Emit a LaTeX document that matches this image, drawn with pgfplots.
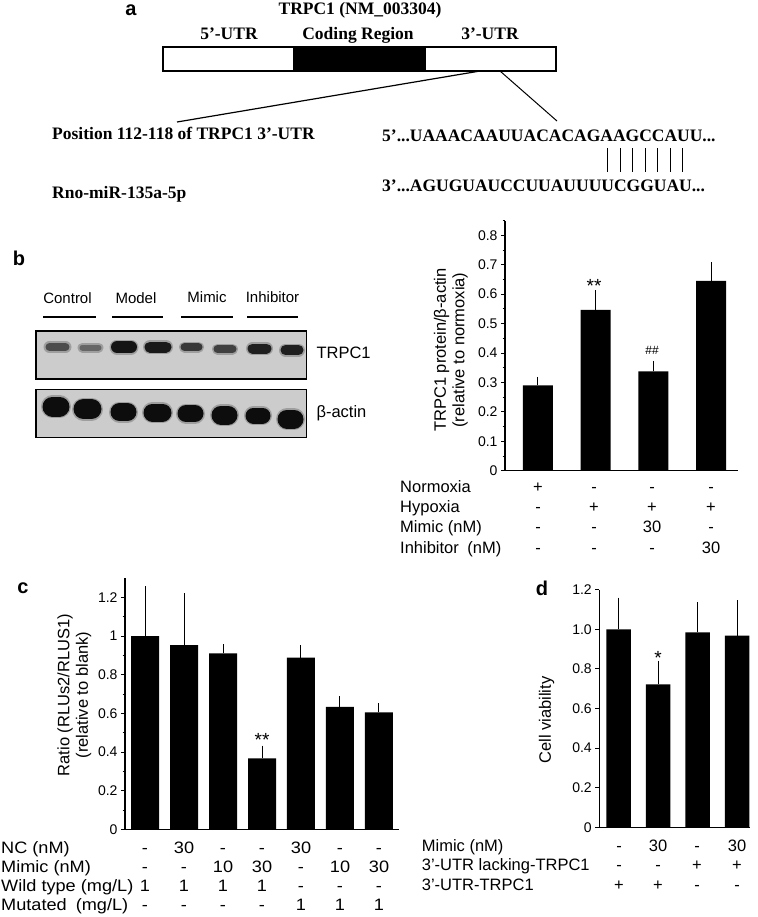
\documentclass[border=0pt]{standalone}
\usepackage{fontspec}
\setmainfont{Liberation Sans}
\newfontfamily\tnr{Liberation Serif}
\newfontfamily\cfont[FakeStretch=1.1]{Liberation Sans}
\usepackage{pgfplots}
\pgfplotsset{compat=1.18}

\newcommand{\fs}[1]{\fontsize{#1}{#1}\selectfont}

\pgfplotsset{
  barpanel/.style={
    scale only axis, anchor=south west, clip=false,
    axis lines=left, axis line style={-, line width=1.1pt},
    xtick=\empty, ytick pos=left,
    tick align=outside, major tick length=4pt, minor tick length=2.5pt,
    every tick/.style={black, line width=0.9pt},
    yticklabel style={font=\fs{14}},
    /pgf/number format/assume math mode=true,
    ymin=0,
  },
  blackbar/.style={ybar, fill=black, draw=none,
    error bars/.cd, y dir=plus, y explicit,
    error bar style={draw=black, line width=1pt},
    error mark options={draw=black, line width=1pt, mark size=2.5pt}},
  halo/.style={no marks, line cap=round, line width=#1, black!38, forget plot},
  band/.style={no marks, line cap=round, line width=#1, forget plot},
}

\begin{document}
\begin{tikzpicture}
\path[use as bounding box] (0pt,0pt) rectangle (757pt,-917pt);

% ---------- canvas in pixel units: text, schematic, blot, tables ----------
\begin{axis}[at={(0pt,-917pt)}, anchor=south west, scale only axis,
  width=757pt, height=917pt, xmin=0, xmax=757, ymin=0, ymax=917,
  y dir=reverse, hide axis, clip=false]

% panel letters
\node[anchor=base, font=\bfseries\fs{20}] at (131,15) {a};
\node[anchor=base, font=\bfseries\fs{20}] at (19,265) {b};
\node[anchor=base, font=\bfseries\fs{20}] at (23,593.3) {c};
\node[anchor=base, font=\bfseries\fs{20}] at (542,595) {d};

% panel a
\node[anchor=base, font=\tnr\bfseries\fs{17.5}] at (360,14.5) {TRPC1 (NM\_003304)};
\node[anchor=base, font=\tnr\bfseries\fs{17.5}] at (229,39.3) {5’-UTR};
\node[anchor=base, font=\tnr\bfseries\fs{17.5}] at (358,39.3) {Coding Region};
\node[anchor=base, font=\tnr\bfseries\fs{17.5}] at (490,39.3) {3’-UTR};
\draw[line width=2pt] (163,47) rectangle (556,71);
\fill (293,47) rectangle (426,71);
\draw[line width=1.2pt] (480,71) -- (177,122);
\draw[line width=1pt] (500,71) -- (557,121);
\node[anchor=base west, inner sep=0pt, font=\tnr\bfseries\fs{17.5}] at (52,139) {Position 112-118 of TRPC1 3’-UTR};
\node[anchor=base west, inner sep=0pt, font=\tnr\bfseries\fs{17.5}] at (382,141) {5’...UAAACAAUUACACAGAAGCCAUU...};
\draw[line width=0.9pt] (607.7,148)--(607.7,172) (620.2,148)--(620.2,172)
  (632.7,148)--(632.7,172) (645.2,148)--(645.2,172) (657.7,148)--(657.7,172)
  (670.2,148)--(670.2,172) (682.7,148)--(682.7,172);
\node[anchor=base west, inner sep=0pt, font=\tnr\bfseries\fs{17.5}] at (52,198) {Rno-miR-135a-5p};
\node[anchor=base west, inner sep=0pt, font=\tnr\bfseries\fs{17.5}] at (382,191) {3’...AGUGUAUCCUUAUUUUCGGUAU...};

% panel b: blot
\node[anchor=base, font=\fs{15}] at (67.5,303.5) {Control};
\node[anchor=base, font=\fs{15}] at (136,303.5) {Model};
\node[anchor=base, font=\fs{15}] at (207,302.5) {Mimic};
\node[anchor=base, font=\fs{15}] at (272.5,302.5) {Inhibitor};
\draw[line width=2pt] (43,317)--(96,317) (112,317)--(163,317) (181,317)--(233,317) (247,317)--(298,317);
\draw[line width=1.5pt, fill=black!20] (36,331) rectangle (306.7,379);
\draw[line width=1.5pt, fill=black!20] (36,389.3) rectangle (306.7,437.3);
\node[anchor=west, font=\fs{16.5}] at (313,353.3) {TRPC1};
\node[anchor=west, font=\fs{16.5}] at (313,413) {β-actin};

% TRPC1 bands
\addplot[halo=12pt] coordinates {(49.5,347) (65.5,347)};
\addplot[band=8pt, black!70] coordinates {(49.5,347) (65.5,347)};
\addplot[halo=10pt] coordinates {(82.5,347.5) (98.5,347.5)};
\addplot[band=6pt, black!60] coordinates {(82.5,347.5) (98.5,347.5)};
\addplot[halo=15pt] coordinates {(117,347) (131,347)};
\addplot[band=12pt, black!92] coordinates {(117,347) (131,347)};
\addplot[halo=14pt] coordinates {(150,347) (166,347)};
\addplot[band=11pt, black!90] coordinates {(150,347) (166,347)};
\addplot[halo=11pt] coordinates {(184.5,347) (198.5,347)};
\addplot[band=8pt, black!78] coordinates {(184.5,347) (198.5,347)};
\addplot[halo=11pt] coordinates {(217.5,349) (232.5,349)};
\addplot[band=8pt, black!75] coordinates {(217.5,349) (232.5,349)};
\addplot[halo=13pt] coordinates {(252.5,348.5) (266.5,348.5)};
\addplot[band=10pt, black!88] coordinates {(252.5,348.5) (266.5,348.5)};
\addplot[halo=13pt] coordinates {(285.5,350) (298.5,350)};
\addplot[band=10pt, black!88] coordinates {(285.5,350) (298.5,350)};

% beta-actin bands
\addplot[halo=23pt] coordinates {(52.5,406.5) (59.5,406.5)};
\addplot[band=20pt, black!95] coordinates {(52.5,406.5) (59.5,406.5)};
\addplot[halo=23pt] coordinates {(83.5,409) (91.5,409)};
\addplot[band=20pt, black!95] coordinates {(83.5,409) (91.5,409)};
\addplot[halo=21pt] coordinates {(119.5,412) (127.5,412)};
\addplot[band=18pt, black!95] coordinates {(119.5,412) (127.5,412)};
\addplot[halo=21pt] coordinates {(152.5,412.5) (162.5,412.5)};
\addplot[band=18pt, black!95] coordinates {(152.5,412.5) (162.5,412.5)};
\addplot[halo=20pt] coordinates {(186,413.5) (195,413.5)};
\addplot[band=17pt, black!95] coordinates {(186,413.5) (195,413.5)};
\addplot[halo=22pt] coordinates {(221,415) (228,415)};
\addplot[band=19pt, black!95] coordinates {(221,415) (228,415)};
\addplot[halo=19pt] coordinates {(253.5,415.5) (262.5,415.5)};
\addplot[band=16pt, black!95] coordinates {(253.5,415.5) (262.5,415.5)};
\addplot[halo=22pt] coordinates {(287,419) (294,419)};
\addplot[band=19pt, black!95] coordinates {(287,419) (294,419)};

% panel b: y label and table
\node[rotate=90, font=\fs{16.5}] at (441.7,350) {TRPC1 protein/β-actin};
\node[rotate=90, font=\fs{16.5}] at (460,350) {(relative to normoxia)};
\node[anchor=base west, font=\fs{16.5}, inner sep=0pt] at (400,492.3) {Normoxia};
\node[anchor=base west, font=\fs{16.5}, inner sep=0pt] at (400,512.6) {Hypoxia};
\node[anchor=base west, font=\fs{16.5}, inner sep=0pt] at (400,532.9) {Mimic (nM)};
\node[anchor=base west, font=\fs{16.5}, inner sep=0pt] at (400,553.2) {Inhibitor\hspace{4pt} (nM)};
\begin{scope}[every node/.style={anchor=base, font=\fs{16.5}, inner sep=0pt}]
\node at (538,492.3) {+}; \node at (594,492.3) {-}; \node at (652,492.3) {-}; \node at (711,492.3) {-};
\node at (538,512.6) {-}; \node at (594,512.6) {+}; \node at (652,512.6) {+}; \node at (711,512.6) {+};
\node at (538,532.9) {-}; \node at (594,532.9) {-}; \node at (652,532.9) {30}; \node at (711,532.9) {-};
\node at (538,553.2) {-}; \node at (594,553.2) {-}; \node at (652,553.2) {-}; \node at (711,553.2) {30};
\end{scope}
\node[anchor=base, font=\fs{19}] at (594,292) {**};
\node[anchor=base, font=\fs{12}] at (652,354.5) {\#\#};

% panel c: y label and table
\node[rotate=90, font=\fs{16.5}] at (65,695) {Ratio (RLUs2/RLUS1)};
\node[rotate=90, font=\fs{16.5}] at (83.5,695) {(relative to blank)};
\node[anchor=base, font=\fs{19}] at (262,746) {**};
\begin{scope}[every node/.style={anchor=base, font=\cfont\fs{16.5}, inner sep=0pt}]
\node[anchor=base west] at (1,853.3) {NC (nM)};
\node[anchor=base west] at (1,872.3) {Mimic (nM)};
\node[anchor=base west] at (1,891.7) {Wild type (mg/L)};
\node[anchor=base west] at (1,910.7) {Mutated\hspace{4pt} (mg/L)};
\node at (145,853.3) {-}; \node at (184,853.3) {30}; \node at (223,853.3) {-}; \node at (262,853.3) {-};
\node at (301,853.3) {30}; \node at (340,853.3) {-}; \node at (379,853.3) {-};
\node at (145,872.3) {-}; \node at (184,872.3) {-}; \node at (223,872.3) {10}; \node at (262,872.3) {30};
\node at (301,872.3) {-}; \node at (340,872.3) {10}; \node at (379,872.3) {30};
\node at (145,891.7) {1}; \node at (184,891.7) {1}; \node at (223,891.7) {1}; \node at (262,891.7) {1};
\node at (301,891.7) {-}; \node at (340,891.7) {-}; \node at (379,891.7) {-};
\node at (145,910.7) {-}; \node at (184,910.7) {-}; \node at (223,910.7) {-}; \node at (262,910.7) {-};
\node at (301,910.7) {1}; \node at (340,910.7) {1}; \node at (379,910.7) {1};
\end{scope}

% panel d: y label and table
\node[rotate=90, font=\fs{16.5}] at (546.7,720) {Cell viability};
\node[anchor=base, font=\fs{19}] at (658,664) {*};
\begin{scope}[every node/.style={anchor=base, font=\fs{16.5}, inner sep=0pt}]
\node[anchor=base west] at (421.7,851.7) {Mimic (nM)};
\node[anchor=base west] at (421.7,870.7) {3’-UTR lacking-TRPC1};
\node[anchor=base west] at (421.7,890) {3’-UTR-TRPC1};
\node at (619,851.7) {-}; \node at (658,851.7) {30}; \node at (697,851.7) {-}; \node at (737,851.7) {30};
\node at (619,870.7) {-}; \node at (658,870.7) {-}; \node at (697,870.7) {+}; \node at (737,870.7) {+};
\node at (619,890) {+}; \node at (658,890) {+}; \node at (697,890) {-}; \node at (737,890) {-};
\end{scope}
\end{axis}

% ---------- panel b chart ----------
\begin{axis}[barpanel, at={(505pt,-470.7pt)}, width=233pt, height=250.1pt,
  xmin=0.428, xmax=4.468, ymax=0.85,
  ytick={0,0.1,0.2,0.3,0.4,0.5,0.6,0.7,0.8},
  yticklabels={0,0.1,0.2,0.3,0.4,0.5,0.6,0.7,0.8},
  minor ytick={0.05,0.15,0.25,0.35,0.45,0.55,0.65,0.75,0.85}]
\addplot[bar width=30pt, blackbar] coordinates {
  (1,0.290) +- (0,0.020)
  (2,0.547) +- (0,0.058)
  (3,0.338) +- (0,0.027)
  (4,0.645) +- (0,0.055)
};
\end{axis}

% ---------- panel c chart ----------
\begin{axis}[barpanel, at={(125pt,-829.3pt)}, width=274pt, height=251.3pt,
  xmin=0.487, xmax=7.513, ymax=1.3,
  ytick={0,0.2,0.4,0.6,0.8,1,1.2},
  yticklabels={0,0.2,0.4,0.6,0.8,1,1.2},
  minor ytick={0.1,0.3,0.5,0.7,0.9,1.1}]
\addplot[bar width=28pt, blackbar] coordinates {
  (1,1.000) +- (0,0.245)
  (2,0.953) +- (0,0.254)
  (3,0.910) +- (0,0.035)
  (4,0.367) +- (0,0.053)
  (5,0.888) +- (0,0.052)
  (6,0.634) +- (0,0.042)
  (7,0.605) +- (0,0.035)
};
\end{axis}

% ---------- panel d chart ----------
\begin{axis}[barpanel, at={(599.3pt,-827.3pt)}, width=150.7pt, height=237.6pt,
  xmin=0.508, xmax=4.33, ymax=1.2,
  ytick={0,0.2,0.4,0.6,0.8,1,1.2},
  yticklabels={0,0.2,0.4,0.6,0.8,1.0,1.2}]
\addplot[bar width=24.5pt, blackbar] coordinates {
  (1,1.000) +- (0,0.148)
  (2,0.722) +- (0,0.106)
  (3,0.985) +- (0,0.138)
  (4,0.968) +- (0,0.166)
};
\end{axis}
\end{tikzpicture}
\end{document}
